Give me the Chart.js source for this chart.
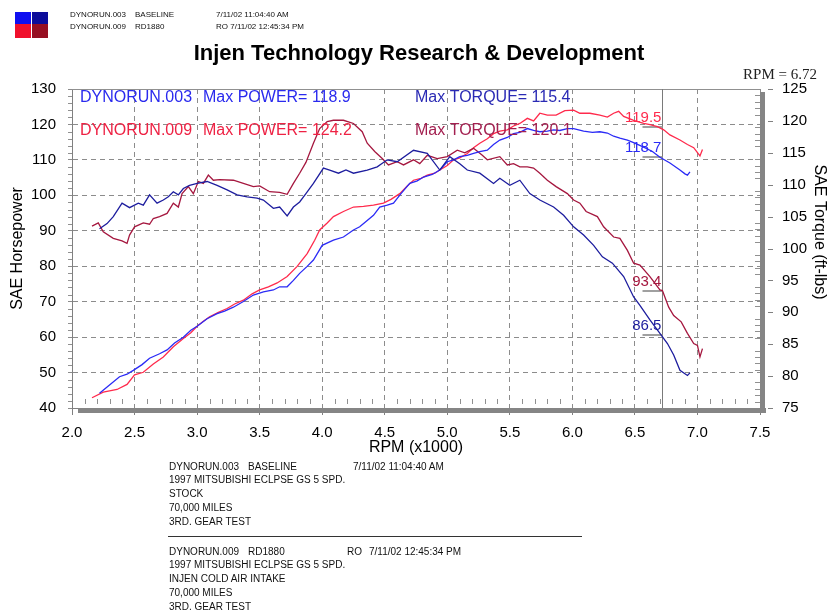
<!DOCTYPE html>
<html>
<head>
<meta charset="utf-8">
<script src="https://cdn.jsdelivr.net/npm/chart.js@4.4.0/dist/chart.umd.min.js"></script>
<style>
html,body{margin:0;padding:0;background:#fff;}
#wrap{position:relative;width:838px;height:614px;overflow:hidden;font-family:'Liberation Sans',Arial,sans-serif;color:#000;}
#c{position:absolute;left:0;top:0;}
.t{position:absolute;white-space:pre;line-height:12px;color:#111;}
.h{font-size:8px;}
.n{font-size:10px;}
.sq{position:absolute;}
</style>
</head>
<body>
<div id="wrap">
<canvas id="c" width="838" height="614"></canvas>
<div class="sq" style="left:15px;top:12px;width:16px;height:12px;background:#0f0ff0"></div>
<div class="sq" style="left:32px;top:12px;width:16px;height:12px;background:#0c0c9a"></div>
<div class="sq" style="left:15px;top:24px;width:16px;height:14px;background:#f0102c"></div>
<div class="sq" style="left:32px;top:24px;width:16px;height:14px;background:#960f22"></div>
<div class="t h" style="left:70px;top:9px">DYNORUN.003</div>
<div class="t h" style="left:135px;top:9px">BASELINE</div>
<div class="t h" style="left:216px;top:9px">7/11/02 11:04:40 AM</div>
<div class="t h" style="left:70px;top:21px">DYNORUN.009</div>
<div class="t h" style="left:135px;top:21px">RD1880</div>
<div class="t h" style="left:216px;top:21px">RO 7/11/02 12:45:34 PM</div>

<div class="t n" style="left:169px;top:461px">DYNORUN.003</div>
<div class="t n" style="left:248px;top:461px">BASELINE</div>
<div class="t n" style="left:353px;top:461px">7/11/02 11:04:40 AM</div>
<div class="t n" style="left:169px;top:474px">1997 MITSUBISHI ECLPSE GS 5 SPD.</div>
<div class="t n" style="left:169px;top:488px">STOCK</div>
<div class="t n" style="left:169px;top:502px">70,000 MILES</div>
<div class="t n" style="left:169px;top:516px">3RD. GEAR TEST</div>
<div style="position:absolute;left:168px;top:536px;width:414px;height:1px;background:#333"></div>
<div class="t n" style="left:169px;top:546px">DYNORUN.009</div>
<div class="t n" style="left:248px;top:546px">RD1880</div>
<div class="t n" style="left:347px;top:546px">RO</div>
<div class="t n" style="left:369px;top:546px">7/11/02 12:45:34 PM</div>
<div class="t n" style="left:169px;top:559px">1997 MITSUBISHI ECLPSE GS 5 SPD.</div>
<div class="t n" style="left:169px;top:573px">INJEN COLD AIR INTAKE</div>
<div class="t n" style="left:169px;top:587px">70,000 MILES</div>
<div class="t n" style="left:169px;top:601px">3RD. GEAR TEST</div>
</div>
<script>
// ---------- DATA (values read on the right-hand 75-125 scale) ----------
const rpmPower003 = [2.22,2.30,2.38,2.44,2.49,2.56,2.62,2.70,2.76,2.82,2.89,2.95,3.00,3.08,3.16,3.22,3.29,3.37,3.45,3.53,3.61,3.66,3.72,3.77,3.82,3.88,3.93,4.00,4.09,4.17,4.25,4.30,4.36,4.41,4.46,4.52,4.57,4.63,4.70,4.76,4.81,4.88,4.94,5.00,5.05,5.10,5.16,5.21,5.26,5.32,5.37,5.42,5.48,5.53,5.58,5.64,5.69,5.74,5.80,5.85,5.90,5.96,6.01,6.09,6.16,6.22,6.28,6.33,6.38,6.44,6.49,6.57,6.64,6.70,6.78,6.86,6.90,6.92,6.94];
const power003 = [77.3,78.6,79.9,80.3,80.9,81.8,82.8,83.5,84.1,85.2,86.1,87.2,87.8,89.0,89.8,90.2,90.8,91.7,92.7,93.2,93.5,94.0,94.0,95.0,96.1,97.2,98.2,100.5,101.3,101.8,102.9,103.4,104.4,105.2,106.5,106.8,107.1,108.6,110.2,110.6,111.2,111.6,112.3,113.6,113.9,114.4,114.6,114.9,115.2,115.4,116.3,117.0,117.4,118.0,118.2,118.8,118.5,118.3,118.4,118.6,118.5,118.8,118.8,118.4,118.2,118.3,118.1,117.6,117.3,117.0,116.6,115.9,115.2,114.3,113.4,112.3,111.7,111.5,112.0];

const rpmPower009 = [2.16,2.25,2.30,2.36,2.44,2.50,2.57,2.65,2.73,2.81,2.89,2.95,3.00,3.05,3.10,3.17,3.24,3.30,3.37,3.44,3.50,3.57,3.64,3.72,3.80,3.88,3.94,3.98,4.04,4.09,4.17,4.25,4.33,4.41,4.49,4.55,4.62,4.68,4.73,4.79,4.84,4.90,4.94,5.00,5.05,5.10,5.16,5.21,5.26,5.32,5.37,5.42,5.48,5.53,5.58,5.64,5.69,5.74,5.80,5.87,5.94,6.01,6.06,6.14,6.22,6.28,6.33,6.37,6.41,6.49,6.57,6.62,6.68,6.73,6.78,6.86,6.92,6.97,7.02,7.04];
const power009 = [76.6,77.5,77.7,77.9,78.7,80.2,80.6,81.9,83.0,84.6,85.9,86.8,87.8,88.6,89.3,90.0,90.6,91.3,91.9,92.9,93.5,94.0,94.6,95.6,97.2,99.2,101.3,102.9,104.0,105.0,105.8,106.5,106.6,106.8,107.1,107.7,108.6,109.8,110.7,111.0,111.5,111.8,112.3,113.0,113.9,114.2,114.9,115.8,116.5,117.2,118.0,118.4,118.6,119.2,119.6,120.4,120.0,121.2,120.9,120.9,121.6,121.7,121.2,121.2,120.9,120.6,121.2,121.5,120.7,120.1,119.6,119.4,119.1,118.6,117.8,117.0,116.3,115.8,114.5,115.5];

const rpmTorque003 = [2.22,2.28,2.33,2.40,2.46,2.53,2.57,2.62,2.68,2.73,2.77,2.81,2.85,2.89,2.94,3.00,3.08,3.16,3.24,3.32,3.40,3.48,3.53,3.61,3.66,3.72,3.77,3.82,3.87,3.93,4.01,4.06,4.13,4.19,4.25,4.36,4.44,4.52,4.60,4.73,4.84,4.94,5.02,5.10,5.16,5.26,5.37,5.42,5.50,5.58,5.66,5.74,5.85,5.93,6.01,6.09,6.17,6.24,6.32,6.41,6.49,6.54,6.62,6.70,6.76,6.81,6.86,6.92,6.94];
const torque003 = [103.1,103.9,105.0,107.1,106.4,107.1,106.8,108.4,107.1,107.6,108.1,108.9,108.4,109.4,109.9,110.2,110.5,109.9,109.2,108.4,108.1,107.9,107.6,106.3,106.5,105.1,106.5,107.3,108.6,110.2,112.6,112.3,111.8,112.3,111.8,112.3,112.8,113.9,113.6,115.4,114.9,112.3,114.4,113.3,112.3,111.8,110.2,111.0,109.9,110.7,108.6,107.6,106.5,105.2,103.4,102.1,100.5,98.7,97.7,95.6,92.4,91.1,88.8,86.7,85.1,83.3,80.9,80.1,80.5];

const rpmTorque009 = [2.16,2.21,2.25,2.33,2.40,2.44,2.46,2.50,2.57,2.62,2.65,2.70,2.76,2.81,2.85,2.88,2.93,2.97,3.01,3.05,3.09,3.13,3.18,3.29,3.37,3.45,3.50,3.58,3.66,3.72,3.77,3.82,3.87,3.93,3.98,4.04,4.09,4.17,4.25,4.32,4.36,4.42,4.48,4.53,4.60,4.65,4.73,4.78,4.84,4.92,5.00,5.08,5.14,5.21,5.28,5.32,5.42,5.48,5.53,5.58,5.64,5.69,5.74,5.80,5.87,5.96,6.01,6.06,6.11,6.20,6.25,6.33,6.38,6.44,6.49,6.54,6.62,6.70,6.72,6.77,6.81,6.87,6.92,6.97,7.00,7.02,7.04];
const torque009 = [103.5,104.0,102.6,101.6,101.2,100.8,102.1,103.4,104.0,103.8,104.7,105.0,105.5,107.1,106.5,108.6,109.7,108.6,110.5,110.2,111.5,110.7,110.8,110.7,110.2,109.7,109.8,108.9,108.8,108.5,110.2,111.8,113.5,116.5,118.8,119.9,120.1,120.1,119.6,118.3,116.5,115.2,114.1,113.1,113.6,113.1,113.9,113.3,114.6,114.1,114.4,115.4,115.0,115.7,114.6,113.9,114.4,113.1,113.3,112.8,112.8,112.6,111.8,110.7,109.7,108.6,107.6,107.1,105.8,105.0,103.4,101.8,101.6,99.7,97.7,97.4,95.6,93.5,93.4,90.8,89.5,88.5,86.7,85.1,84.8,83.0,84.3];

const runNames = ['DYNORUN.003', 'DYNORUN.009'];
const maxPower = [118.9, 124.2];
const maxTorque = [115.4, 120.1];
const cursorRpm = 6.72;
const cursorLabels = ['119.5', '118.7', '93.4', '86.5'];
const cursorLevels = [119.0, 114.3, 93.4, 86.4];

const xRange = [2.0, 7.5, 0.5];
const hpRange = [40, 130, 10];
const tqRange = [75, 125, 5];

// ---------- STYLE ----------
const COL = {
  power003: '#2b2bf6', torque003: '#1d1d9e',
  power009: '#ff2a4c', torque009: '#a5173f',
  txtP003: '#2a2aee', txtT003: '#2a2ab4', txtP009: '#ee2244', txtT009: '#a32050'
};
const FONT = "'Liberation Sans', Arial, sans-serif";
Chart.defaults.font.family = FONT;

function pts(r, v) { return r.map((x, i) => ({x: x, y: v[i]})); }

const overlay = {
  id: 'overlay',
  beforeDatasetsDraw(chart) {
    const {ctx, chartArea: a, scales} = chart;
    const x = scales.x, y = scales.y, y2 = scales.y2;
    const ln = (x1, y1, x2, y2_) => { ctx.beginPath(); ctx.moveTo(x1, y1); ctx.lineTo(x2, y2_); ctx.stroke(); };
    ctx.save();
    ctx.strokeStyle = '#909090';
    ctx.lineWidth = 1;
    ctx.setLineDash([]);
    ln(a.left, Math.round(a.top) + 0.5, a.right, Math.round(a.top) + 0.5);
    for (let v = hpRange[0]; v <= hpRange[1]; v += 2) {
      if (v % 10 === 0) continue;
      const py = Math.round(y.getPixelForValue(v)) + 0.5;
      ln(a.left - 4, py, a.left, py);
    }
    for (let i = 20; i <= 75; i++) {
      if (i % 5 === 0) continue;
      const px = Math.round(x.getPixelForValue(i / 10)) + 0.5;
      ln(px, a.bottom - 9, px, a.bottom - 4);
    }
    for (let v = tqRange[0]; v <= tqRange[1]; v++) {
      if (v % 5 === 0) continue;
      const py = Math.round(y2.getPixelForValue(v)) + 0.5;
      ln(a.right - 5, py, a.right, py);
    }
    const cx = Math.round(x.getPixelForValue(cursorRpm)) + 0.5;
    ctx.strokeStyle = '#7a7a7a';
    ln(cx, a.top, cx, a.bottom);
    ctx.strokeStyle = '#a0a0a0';
    ctx.lineWidth = 2;
    cursorLevels.forEach(v => {
      const py = Math.round(y2.getPixelForValue(v));
      ln(cx - 20, py, cx, py);
    });
    ctx.restore();
  },
  afterDraw(chart) {
    const {ctx, chartArea: a, scales} = chart;
    const x = scales.x, y2 = scales.y2;
    const ln = (x1, y1, x2, y2_) => { ctx.beginPath(); ctx.moveTo(x1, y1); ctx.lineTo(x2, y2_); ctx.stroke(); };
    ctx.save();
    // shadow frame
    ctx.fillStyle = '#858585';
    ctx.fillRect(Math.round(a.left) + 6, Math.round(a.bottom), Math.round(a.right - a.left), 5);
    ctx.fillRect(Math.round(a.right), Math.round(a.top) + 3, 5, Math.round(a.bottom - a.top) + 2);
    // right axis tick marks
    ctx.strokeStyle = '#808080';
    ctx.lineWidth = 1;
    for (let v = tqRange[0]; v <= tqRange[1]; v += tqRange[2]) {
      const py = Math.round(y2.getPixelForValue(v)) + 0.5;
      ln(a.right + 8, py, a.right + 13, py);
    }
    // in-plot legend
    ctx.font = '16px ' + FONT;
    ctx.textBaseline = 'middle';
    ctx.textAlign = 'left';
    const rows = [97.5, 131];
    const pc = [COL.txtP003, COL.txtP009];
    const tc = [COL.txtT003, COL.txtT009];
    for (let i = 0; i < 2; i++) {
      ctx.fillStyle = pc[i];
      ctx.fillText(runNames[i], 80, rows[i]);
      ctx.fillText('Max POWER= ' + maxPower[i].toFixed(1), 203, rows[i]);
      ctx.fillStyle = tc[i];
      ctx.fillText('Max TORQUE= ' + maxTorque[i].toFixed(1), 415, rows[i]);
    }
    // cursor value labels
    const cx = x.getPixelForValue(cursorRpm);
    const lc = [COL.power009, COL.power003, COL.torque009, COL.torque003];
    ctx.font = '15px ' + FONT;
    ctx.textAlign = 'right';
    cursorLabels.forEach((t, i) => {
      ctx.fillStyle = lc[i];
      ctx.fillText(t, cx - 1, y2.getPixelForValue(cursorLevels[i]) - 9);
    });
    // right axis title
    ctx.fillStyle = '#000';
    ctx.font = '16px ' + FONT;
    ctx.textAlign = 'center';
    ctx.save();
    ctx.translate(819, 232);
    ctx.rotate(Math.PI / 2);
    ctx.fillText('SAE Torque (ft-lbs)', 0, 0);
    ctx.restore();
    // cursor readout
    ctx.font = "15px 'Liberation Serif', 'Times New Roman', serif";
    ctx.textAlign = 'right';
    ctx.fillStyle = '#222';
    ctx.fillText('RPM = ' + cursorRpm.toFixed(2), 817, 75);
    ctx.restore();
  }
};

new Chart(document.getElementById('c'), {
  type: 'line',
  data: {
    datasets: [
      {label: 'Torque 003', data: pts(rpmTorque003, torque003), borderColor: COL.torque003, yAxisID: 'y2'},
      {label: 'Power 003', data: pts(rpmPower003, power003), borderColor: COL.power003, yAxisID: 'y2'},
      {label: 'Torque 009', data: pts(rpmTorque009, torque009), borderColor: COL.torque009, yAxisID: 'y2'},
      {label: 'Power 009', data: pts(rpmPower009, power009), borderColor: COL.power009, yAxisID: 'y2'}
    ]
  },
  options: {
    responsive: false,
    animation: false,
    devicePixelRatio: 1,
    layout: {padding: {top: 41, left: 0, right: 0, bottom: 156}},
    elements: {point: {radius: 0}, line: {borderWidth: 1.3, tension: 0, fill: false}},
    plugins: {
      legend: {display: false},
      tooltip: {enabled: false},
      title: {display: true, text: 'Injen Technology Research & Development', color: '#000',
              font: {size: 22, weight: 'bold'}, padding: {top: 0, bottom: 21.6}}
    },
    scales: {
      x: {
        type: 'linear', position: 'bottom', min: xRange[0], max: xRange[1],
        afterFit: s => { s.height = 50; },
        ticks: {stepSize: xRange[2], callback: v => Number(v).toFixed(1), color: '#000', font: {size: 15}, padding: 9, maxRotation: 0, autoSkip: false},
        grid: {color: '#8c8c8c', lineWidth: 1, tickLength: 7, tickColor: '#808080'},
        border: {display: true, color: '#808080', width: 1, dash: [5, 4]},
        title: {display: true, text: 'RPM (x1000)', color: '#000', font: {size: 16}, padding: {top: 0, bottom: 1}}
      },
      y: {
        type: 'linear', position: 'left', min: hpRange[0], max: hpRange[1],
        afterFit: s => { s.width = 72; },
        ticks: {stepSize: hpRange[2], color: '#000', font: {size: 15}, padding: 12},
        grid: {color: '#8c8c8c', lineWidth: 1, tickLength: 4, tickColor: '#8c8c8c'},
        border: {display: true, color: '#808080', width: 1, dash: [5, 4]},
        title: {display: true, text: 'SAE Horsepower', color: '#000', font: {size: 16}, padding: {top: 8, bottom: 0}}
      },
      y2: {
        type: 'linear', position: 'right', min: tqRange[0], max: tqRange[1],
        afterFit: s => { s.width = 78; },
        ticks: {stepSize: tqRange[2], color: '#000', font: {size: 15}, padding: 22},
        grid: {display: false, drawTicks: false, drawOnChartArea: false},
        border: {display: false}
      }
    }
  },
  plugins: [overlay]
});
</script>
</body>
</html>
